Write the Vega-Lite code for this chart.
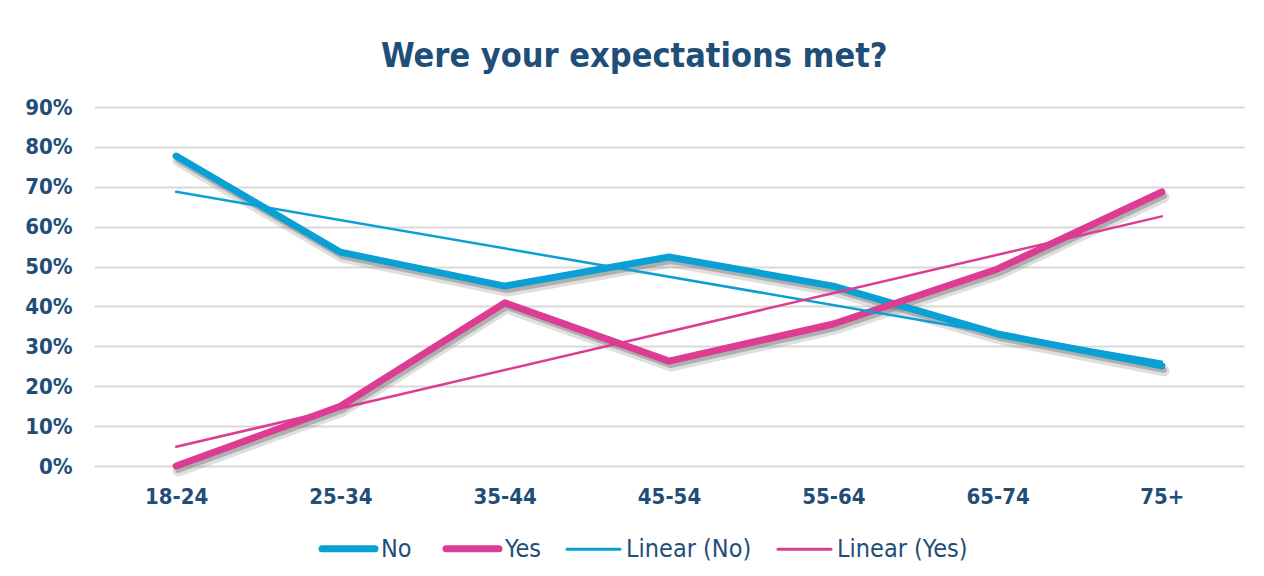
{
  "$schema": "https://vega.github.io/schema/vega-lite/v6.json",
  "width": 1150,
  "height": 359,
  "padding": {"left": 24, "top": 40, "right": 21, "bottom": 10},
  "background": "white",
  "title": {
    "text": "Were your expectations met?",
    "fontSize": 34,
    "font": "DejaVu Sans Condensed, Liberation Sans Narrow, sans-serif",
    "fontWeight": "bold",
    "color": "#1f4e79",
    "anchor": "middle",
    "frame": "bounds",
    "offset": 22
  },
  "config": {"view": {"stroke": null}},
  "data": {
    "values": [
      {"age": "18-24", "series": "No", "trend": "Linear (No)", "value": 0.777},
      {"age": "25-34", "series": "No", "trend": "Linear (No)", "value": 0.536},
      {"age": "35-44", "series": "No", "trend": "Linear (No)", "value": 0.451},
      {"age": "45-54", "series": "No", "trend": "Linear (No)", "value": 0.524},
      {"age": "55-64", "series": "No", "trend": "Linear (No)", "value": 0.451},
      {"age": "65-74", "series": "No", "trend": "Linear (No)", "value": 0.331},
      {"age": "75+", "series": "No", "trend": "Linear (No)", "value": 0.251},
      {"age": "18-24", "series": "Yes", "trend": "Linear (Yes)", "value": 0.0},
      {"age": "25-34", "series": "Yes", "trend": "Linear (Yes)", "value": 0.15},
      {"age": "35-44", "series": "Yes", "trend": "Linear (Yes)", "value": 0.409},
      {"age": "45-54", "series": "Yes", "trend": "Linear (Yes)", "value": 0.263},
      {"age": "55-64", "series": "Yes", "trend": "Linear (Yes)", "value": 0.356},
      {"age": "65-74", "series": "Yes", "trend": "Linear (Yes)", "value": 0.494},
      {"age": "75+", "series": "Yes", "trend": "Linear (Yes)", "value": 0.687}
    ]
  },
  "transform": [
    {"window": [{"op": "row_number", "as": "idx"}], "groupby": ["series"]}
  ],
  "encoding": {
    "x": {
      "field": "idx",
      "type": "quantitative",
      "scale": {"domain": [0.5, 7.5], "nice": false, "zero": false},
      "axis": {
        "title": null,
        "values": [1, 2, 3, 4, 5, 6, 7],
        "labelExpr": "['', '18-24', '25-34', '35-44', '45-54', '55-64', '65-74', '75+'][datum.value]",
        "grid": false,
        "ticks": false,
        "domain": false,
        "labelFont": "DejaVu Sans Condensed, Liberation Sans Narrow, sans-serif",
        "labelFontWeight": "bold",
        "labelFontSize": 22,
        "labelColor": "#1f4e79",
        "labelPadding": 20
      }
    },
    "y": {
      "field": "value",
      "type": "quantitative",
      "scale": {"domain": [0, 0.9], "nice": false},
      "axis": {
        "title": null,
        "values": [0, 0.1, 0.2, 0.3, 0.4, 0.5, 0.6, 0.7, 0.8, 0.9],
        "format": ".0%",
        "grid": true,
        "gridColor": "#d9d9d9",
        "gridWidth": 2,
        "ticks": false,
        "domain": false,
        "labelFont": "DejaVu Sans Condensed, Liberation Sans Narrow, sans-serif",
        "labelFontWeight": "bold",
        "labelFontSize": 22,
        "labelColor": "#1f4e79",
        "labelPadding": 22
      }
    }
  },
  "layer": [
    {
      "mark": {"type": "line", "color": "#808080", "opacity": 0.25, "strokeWidth": 11, "xOffset": 2, "yOffset": 5, "strokeCap": "round", "strokeJoin": "round"},
      "encoding": {"detail": {"field": "series"}}
    },
    {
      "mark": {"type": "line", "color": "#808080", "opacity": 0.5, "strokeWidth": 6, "xOffset": 2, "yOffset": 4, "strokeCap": "round", "strokeJoin": "round"},
      "encoding": {"detail": {"field": "series"}}
    },
    {
      "mark": {"type": "line", "strokeWidth": 7, "strokeCap": "round", "strokeJoin": "round"},
      "encoding": {
        "color": {
          "field": "series",
          "type": "nominal",
          "scale": {
            "domain": ["No", "Yes", "Linear (No)", "Linear (Yes)"],
            "range": ["#0aa0d4", "#dc3c91", "#0aa0d4", "#dc3c91"]
          },
          "legend": {
            "title": null,
            "orient": "none",
            "legendX": 242,
            "legendY": 429,
            "padding": 0,
            "direction": "horizontal",
            "symbolType": "M-1,0H1",
            "symbolSize": 2800,
            "symbolStrokeWidth": 7,
            "labelFont": "DejaVu Sans Condensed, Liberation Sans Narrow, sans-serif",
            "labelFontSize": 25,
            "labelColor": "#1f4e79",
            "labelOffset": 20,
            "columnPadding": 20,
            "encode": {
              "symbols": {
                "update": {
                  "strokeWidth": {"signal": "indexof(['No','Yes'], datum.value) >= 0 ? 7 : 3"},
                  "strokeCap": {"value": "round"}
                }
              }
            }
          }
        }
      }
    },
    {
      "transform": [
        {"regression": "value", "on": "idx", "groupby": ["series", "trend"]}
      ],
      "mark": {"type": "line", "strokeWidth": 2.5, "strokeCap": "round"},
      "encoding": {
        "color": {"field": "trend", "type": "nominal"}
      }
    }
  ]
}
